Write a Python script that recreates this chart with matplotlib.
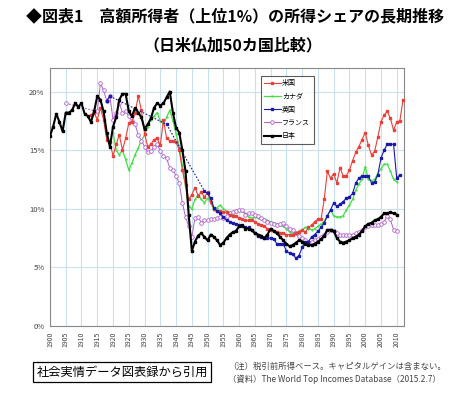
import matplotlib
matplotlib.use("Agg")
import matplotlib.pyplot as plt
from matplotlib.lines import Line2D

plt.rcParams['font.family'] = ['Noto Sans CJK JP', 'DejaVu Sans']

# top 1% income share (%)
japan_years = list(range(1900, 2011))
japan = [16.2, 17.0, 18.1, 17.4, 16.6, 18.2, 18.2, 18.4, 19.0, 18.7,
         19.0, 18.1, 17.9, 17.4, 18.3, 19.6, 19.3, 18.3, 16.5, 15.3,
         17.0, 17.8, 19.3, 19.8, 19.8, 18.3, 17.9, 18.6, 18.2, 17.8,
         16.8, 17.2, 17.7, 18.6, 19.0, 18.8, 19.0, 19.5, 20.0, 18.2,
         16.9, 16.5, 15.0, 13.2, 9.5, 6.4, 7.2, 7.7, 7.9, 7.6,
         7.3, 7.8, 7.6, 7.3, 6.9, 7.1, 7.5, 7.8, 8.0, 8.1,
         8.5, 8.6, 8.3, 8.3, 8.2, 7.9, 7.8, 7.7, 7.5, 7.8,
         8.3, 8.1, 7.9, 7.6, 7.3, 7.0, 6.8, 6.9, 7.1, 7.3,
         7.2, 7.0, 6.9, 6.9, 7.0, 7.2, 7.4, 7.7, 8.2, 8.2,
         8.1, 7.5, 7.2, 7.1, 7.2, 7.3, 7.5, 7.6, 7.8, 8.1,
         8.5, 8.7, 8.8, 9.0, 9.1, 9.3, 9.6, 9.6, 9.7, 9.6, 9.5]

us_years = list(range(1913, 2013))
us = [18.0, 18.2, 17.6, 18.6, 17.6, 15.9, 15.7,
      14.5, 15.5, 16.3, 15.0, 16.0, 17.3, 17.4, 18.2, 19.6, 18.4,
      16.4, 15.3, 15.5, 15.9, 16.0, 15.4, 17.6, 16.0, 15.8, 15.8,
      15.7, 15.0, 13.3, 12.0, 10.8, 11.2, 11.8, 11.1, 11.4, 11.0,
      11.4, 10.6, 10.0, 9.8, 9.8, 9.7, 9.7, 9.5, 9.4, 9.4,
      9.2, 9.1, 9.0, 9.0, 9.0, 8.9, 8.7, 8.6, 8.5, 8.3,
      8.2, 8.1, 8.0, 7.9, 7.9, 7.8, 7.8, 7.8, 7.9, 8.0,
      8.2, 8.0, 8.4, 8.6, 8.9, 9.1, 9.1, 10.8, 13.2, 12.6,
      13.0, 12.2, 13.5, 12.8, 12.8, 13.3, 14.1, 14.8, 15.3, 15.9,
      16.5, 15.4, 14.6, 14.9, 16.1, 17.4, 18.0, 18.3, 17.7, 16.7, 17.4, 17.5, 19.3]

canada_years = list(range(1920, 2011))
canada = [16.5, 15.0, 14.6, 15.0, 14.2, 13.3, 13.9, 14.6, 15.2, 15.8,
          16.3, 17.0, 17.6, 17.9, 18.2, 17.5, 17.2, 17.8, 18.4, 17.5,
          16.4, 15.3, 13.7, 12.0, 10.2, 10.0, 10.8, 11.2, 10.8, 10.5,
          10.9, 10.5, 9.9, 10.1, 10.3, 10.0, 9.8, 9.6, 9.5, 9.7,
          9.8, 9.8, 9.6, 9.3, 9.2, 9.3, 9.2, 9.1, 9.1, 9.0,
          8.9, 8.8, 8.7, 8.6, 8.5, 8.3, 8.0, 7.9, 7.9, 8.1,
          8.2, 8.4, 8.3, 8.2, 8.3, 8.5, 8.7, 8.9, 9.4, 9.9,
          9.4, 9.3, 9.3, 9.4, 9.9, 10.3, 10.8, 11.6, 12.1, 12.5,
          13.6, 12.5, 12.4, 12.5, 13.0, 13.4, 13.8, 13.8, 13.2, 12.5, 12.3]

uk_years = [1918, 1919, 1937] + list(range(1949, 2012))
uk = [19.2, 19.6, 17.2,
      11.5, 11.3, 10.9, 10.1, 9.8, 9.6, 9.3, 9.0, 8.9, 8.8, 8.7,
      8.6, 8.5, 8.4, 8.4, 8.2, 7.9, 7.7, 7.6, 7.5, 7.5,
      7.5, 7.4, 7.0, 7.0, 7.0, 6.4, 6.2, 6.1, 5.8, 6.0,
      6.7, 7.2, 7.2, 7.6, 7.8, 8.1, 8.4, 8.8, 9.4, 9.9,
      10.5, 10.2, 10.4, 10.6, 10.9, 11.0, 11.3, 12.2, 12.6, 12.8,
      12.8, 12.8, 12.2, 12.3, 12.9, 14.3, 15.0, 15.5, 15.5, 15.5, 12.6, 12.9]

france_years = [1905] + list(range(1915, 2011))
france = [19.0,
          18.3, 20.7, 20.1, 19.2, 19.6,
          17.6, 18.2, 19.0, 18.2, 18.3, 17.9, 17.5, 17.2, 16.3, 15.8,
          15.3, 14.8, 14.9, 15.3, 15.5, 14.9, 14.5, 14.3, 13.5, 13.3,
          12.8, 12.2, 10.5, 9.3, 8.5, 7.6, 9.2, 9.3, 8.8, 9.0,
          9.0, 9.1, 9.1, 9.2, 9.3, 9.2, 9.4, 9.6, 9.7, 9.8,
          9.9, 9.9, 9.5, 9.6, 9.6, 9.5, 9.4, 9.2, 9.0, 8.9,
          8.8, 8.7, 8.6, 8.7, 8.8, 8.5, 8.3, 8.2, 7.9, 7.7,
          7.5, 7.3, 7.2, 7.2, 7.3, 7.4, 7.6, 7.8, 8.0, 8.2,
          8.1, 7.9, 7.8, 7.8, 7.8, 7.8, 7.8, 7.9, 8.0, 8.2,
          8.4, 8.5, 8.6, 8.6, 8.6, 8.7, 8.9, 9.4, 9.1, 8.2, 8.1]

labels = ['米国', 'カナダ', '英国', 'フランス', '日本']
x_ticks = list(range(1900, 2011, 5))
y_ticks = [0, 5, 10, 15, 20]


def draw(ax, years, vals, **style):
    # solid line for consecutive years, dotted line across missing years
    runs = [[0]]
    for i in range(1, len(years)):
        if years[i] - years[i - 1] == 1:
            runs[-1].append(i)
        else:
            ax.plot([years[i - 1], years[i]], [vals[i - 1], vals[i]],
                    ls=(0, (1.5, 1.5)), lw=0.8, color=style['color'], zorder=style.get('zorder', 2))
            runs.append([i])
    for r in runs:
        ax.plot([years[i] for i in r], [vals[i] for i in r], **style)


fig = plt.figure(figsize=(4.56, 3.98), dpi=100)
ax = fig.add_axes([0.1096, 0.181, 0.7763, 0.648])

us_style = dict(color='#e8403a', lw=0.8, marker='s', ms=1.6, zorder=3)
ca_style = dict(color='#44dd44', lw=0.9, marker='.', ms=1.2, zorder=2)
uk_style = dict(color='#1a1aa8', lw=0.8, marker='s', ms=1.8, zorder=3)
fr_style = dict(color='#b060cc', lw=0.7, marker='o', ms=2.6, mfc='white', mew=0.6, zorder=2)
jp_style = dict(color='black', lw=1.5, marker='s', ms=1.5, zorder=4)

draw(ax, canada_years, canada, **ca_style)
draw(ax, france_years, france, **fr_style)
draw(ax, us_years, us, **us_style)
draw(ax, uk_years, uk, **uk_style)
draw(ax, japan_years, japan, **jp_style)

ax.set_xlim(1900, 2012.3)
ax.set_ylim(0, 22)
ax.set_xticks(x_ticks)
ax.set_xticklabels([str(y) for y in x_ticks], rotation=90, fontsize=5, color='#444444')
ax.set_yticks(y_ticks)
ax.set_yticklabels([f'{v}%' for v in y_ticks], fontsize=5.5, color='#444444')
ax.tick_params(length=0, pad=4)
ax.grid(True, color='#c8e0f0', lw=0.8)
ax.set_axisbelow(True)
for s in ax.spines.values():
    s.set_color('#888888')
    s.set_linewidth(0.8)

handles = [Line2D([], [], **{k: v for k, v in st.items() if k != 'zorder'})
           for st in (us_style, ca_style, uk_style, fr_style, jp_style)]
leg = ax.legend(handles, labels, loc='upper left', bbox_to_anchor=(0.595, 0.97),
                fontsize=5, frameon=True, fancybox=False, edgecolor='#333333',
                handlelength=2.4, borderpad=0.5, labelspacing=0.75, handletextpad=0.2,
                borderaxespad=0)
leg.get_frame().set_linewidth(0.8)

fig.text(0.515, 1 - 16 / 398, '◆図表1　高額所得者（上位1%）の所得シェアの長期推移',
         ha='center', va='center', fontsize=11.5, fontweight='bold')
fig.text(0.51, 1 - 45 / 398, '（日米仏加50カ国比較）',
         ha='center', va='center', fontsize=11.5, fontweight='bold')

fig.text(0.08, 1 - 372 / 398, '社会実情データ図表録から引用', ha='left', va='center',
         fontsize=8.8, bbox=dict(boxstyle='square,pad=0.25', fc='white', ec='black', lw=0.9))
fig.text(0.50, 1 - 366 / 398, '（注）税引前所得ベース。キャピタルゲインは含まない。',
         ha='left', va='center', fontsize=6, color='#444444')
fig.text(0.50, 1 - 379 / 398, '（資料）The World Top Incomes Database（2015.2.7）',
         ha='left', va='center', fontsize=6, color='#444444')

fig.savefig('out.png', dpi=100)
